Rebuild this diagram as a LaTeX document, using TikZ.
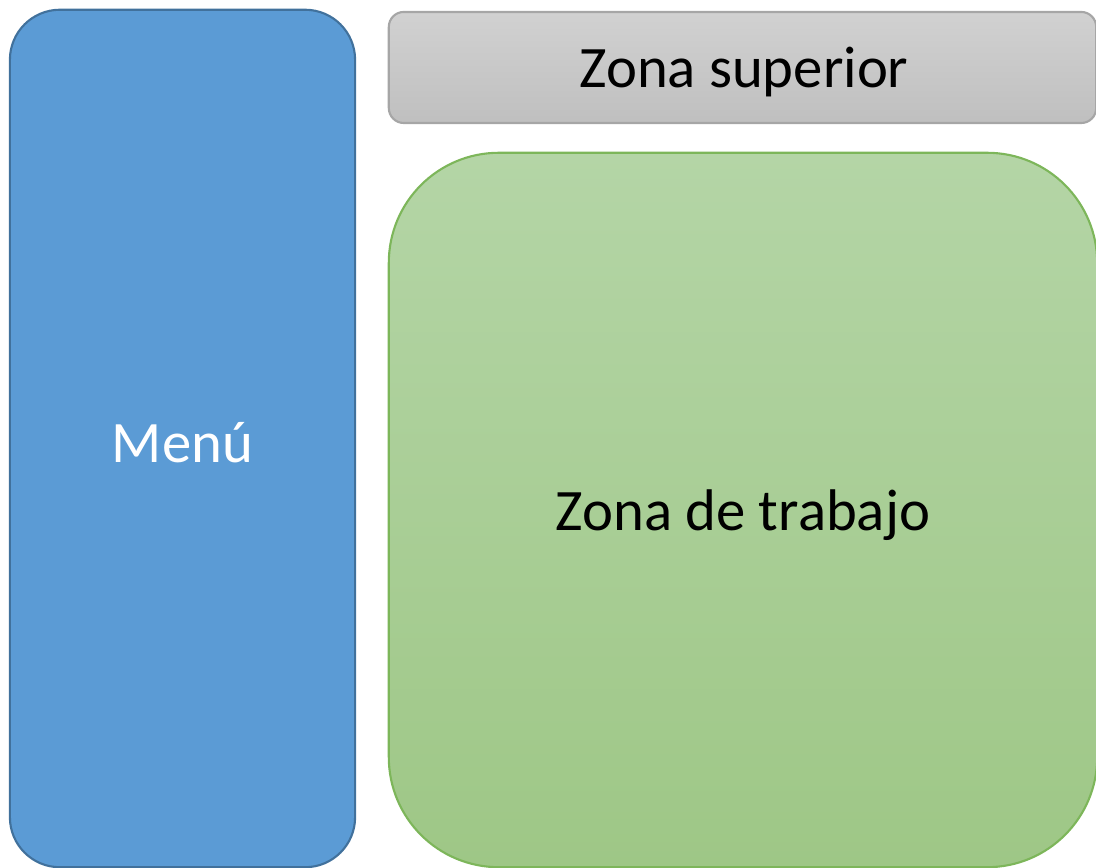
\documentclass[tikz,border=0pt]{standalone}
\usepackage{fontspec}
\setmainfont{Carlito}
\definecolor{menublue}{HTML}{5B9BD5}
\definecolor{menuedge}{HTML}{41719C}
\definecolor{grayedge}{HTML}{A6A6A6}
\definecolor{greenedge}{HTML}{7DB65A}

\begin{document}
\begin{tikzpicture}[x=0.01cm, y=-0.01cm,
   zona/.style={draw, line width=0.6pt, inner sep=0pt},
   rotulo/.style={font=\fontsize{16.7}{20}\selectfont}]
   \useasboundingbox (0,0) rectangle (1096,868);
   \node[zona, fill=menublue, draw=menuedge, rounded corners=0.5cm,
      minimum width=3.45cm, minimum height=8.57cm] (menu) at (182.5,438.5) {};
   \node[rotulo, text=white] (menutxt) at (182.5,443) {Menú};
   \node[zona, top color=black!18, bottom color=black!25, draw=grayedge, rounded corners=0.15cm,
      minimum width=7.07cm, minimum height=1.11cm] (superior) at (742.5,67.5) {};
   \node[rotulo] (superiortxt) at (744,72) {Zona superior};
   \node[zona, top color={rgb,255:red,180;green,213;blue,166}, bottom color={rgb,255:red,158;green,199;blue,134},
      draw=greenedge, rounded corners=1.1cm,
      minimum width=7.08cm, minimum height=7.14cm] (trabajo) at (743,510) {};
   \node[rotulo] (trabajotxt) at (743,515) {Zona de trabajo};
\end{tikzpicture}
\end{document}
